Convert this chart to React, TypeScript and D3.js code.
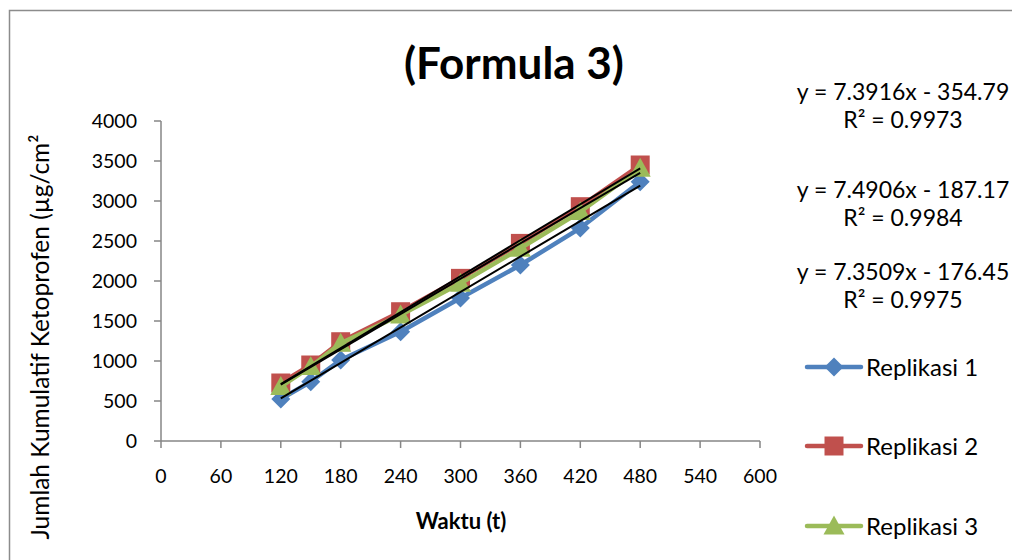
import React from "react";
import * as d3 from "d3";

const times = [120, 150, 180, 240, 300, 360, 420, 480];
const replikasi1 = [525, 740, 1012, 1366, 1787, 2200, 2662, 3241];
const replikasi2 = [725, 950, 1241, 1616, 2033, 2470, 2929, 3450];
const replikasi3 = [680, 929, 1221, 1575, 1971, 2409, 2866, 3408];

const seriesNames = ["Replikasi 1", "Replikasi 2", "Replikasi 3"];
const seriesColors = ["#4f81bd", "#c0504d", "#9bbb59"];
const seriesMarkers = ["diamond", "square", "triangle"];

// linear trendline coefficients (slope, intercept) and R²
const slopes = [7.3916, 7.4906, 7.3509];
const intercepts = [-354.79, -187.17, -176.45];
const rSquared = ["0.9973", "0.9984", "0.9975"];

const xTicks = [0, 60, 120, 180, 240, 300, 360, 420, 480, 540, 600];
const yTicks = [0, 500, 1000, 1500, 2000, 2500, 3000, 3500, 4000];

const FONT = "Lato, 'Open Sans', sans-serif";

function markerPath(kind: string, cx: number, cy: number): string {
  if (kind === "diamond") {
    const r = 9.5;
    return `M${cx},${cy - r}L${cx + r},${cy}L${cx},${cy + r}L${cx - r},${cy}Z`;
  }
  if (kind === "square") {
    const r = 9.5;
    return `M${cx - r},${cy - r}H${cx + r}V${cy + r}H${cx - r}Z`;
  }
  const r = 10.5;
  return `M${cx},${cy - r}L${cx + r},${cy + r * 0.8}L${cx - r},${cy + r * 0.8}Z`;
}

export default function App() {
  const width = 1012;
  const height = 560;
  const x = d3.scaleLinear().domain([0, 600]).range([161, 760]);
  const y = d3.scaleLinear().domain([0, 4000]).range([441, 121]);

  const allSeries = [replikasi1, replikasi2, replikasi3];
  const line = d3
    .line<number>()
    .x((_, i) => x(times[i]))
    .y((d) => y(d));

  const eqBaselines = [100, 198, 280];
  const legendY = [367, 446, 526];
  const axisColor = "#868686";

  return (
    <svg
      width={width}
      height={height}
      style={{ position: "absolute", left: 0, top: 0, background: "#ffffff" }}
    >
      <rect x={0} y={0} width={width} height={height} fill="#ffffff" />
      <rect
        x={9.5}
        y={10.5}
        width={width + 10}
        height={height + 10}
        fill="none"
        stroke="#8c8c8c"
        strokeWidth={1.5}
      />

      <text
        x={514}
        y={79}
        textAnchor="middle"
        fontFamily={FONT}
        fontWeight="bold"
        fontSize={44}
        fill="#000"
      >
        (Formula 3)
      </text>

      {/* axes */}
      <line x1={x(0)} x2={x(600)} y1={y(0)} y2={y(0)} stroke={axisColor} strokeWidth={1.5} />
      <line x1={x(0)} x2={x(0)} y1={y(0)} y2={y(4000)} stroke={axisColor} strokeWidth={1.5} />
      {yTicks.map((t) => (
        <g key={"y" + t}>
          <line x1={x(0) - 7} x2={x(0)} y1={y(t)} y2={y(t)} stroke={axisColor} strokeWidth={1.5} />
          <text
            x={137}
            y={y(t)}
            dy="0.36em"
            textAnchor="end"
            fontFamily={FONT}
            fontSize={19.5}
            fill="#000"
          >
            {t}
          </text>
        </g>
      ))}
      {xTicks.map((t) => (
        <g key={"x" + t}>
          <line x1={x(t)} x2={x(t)} y1={y(0)} y2={y(0) + 7} stroke={axisColor} strokeWidth={1.5} />
          <text
            x={x(t)}
            y={483}
            textAnchor="middle"
            fontFamily={FONT}
            fontSize={19.5}
            fill="#000"
          >
            {t}
          </text>
        </g>
      ))}

      <text
        x={461}
        y={529}
        textAnchor="middle"
        fontFamily={FONT}
        fontWeight="bold"
        fontSize={22}
        fill="#000"
      >
        Waktu (t)
      </text>
      <text
        transform={`translate(49, 337) rotate(-90)`}
        textAnchor="middle"
        fontFamily={FONT}
        fontSize={24.5}
        fill="#000"
      >
        Jumlah Kumulatif Ketoprofen (µg/cm²
      </text>

      {/* data series */}
      {allSeries.map((vals, s) => (
        <g key={"s" + s}>
          <path
            d={line(vals) || ""}
            fill="none"
            stroke={seriesColors[s]}
            strokeWidth={4.5}
            strokeLinejoin="round"
            strokeLinecap="round"
          />
          {vals.map((v, i) => (
            <path
              key={i}
              d={markerPath(seriesMarkers[s], x(times[i]), y(v))}
              fill={seriesColors[s]}
            />
          ))}
        </g>
      ))}

      {/* linear trendlines */}
      {slopes.map((m, s) => (
        <line
          key={"t" + s}
          x1={x(times[0])}
          x2={x(times[times.length - 1])}
          y1={y(m * times[0] + intercepts[s])}
          y2={y(m * times[times.length - 1] + intercepts[s])}
          stroke="#000"
          strokeWidth={2}
        />
      ))}

      {/* trendline equations */}
      {slopes.map((m, s) => (
        <g key={"e" + s} fontFamily={FONT} fontSize={23} fill="#000">
          <text x={903} y={eqBaselines[s]} textAnchor="middle">
            {`y = ${m.toFixed(4)}x - ${Math.abs(intercepts[s]).toFixed(2)}`}
          </text>
          <text x={903} y={eqBaselines[s] + 28} textAnchor="middle">
            {`R² = ${rSquared[s]}`}
          </text>
        </g>
      ))}

      {/* legend */}
      {seriesNames.map((name, s) => (
        <g key={"l" + s}>
          <line
            x1={807}
            x2={861}
            y1={legendY[s]}
            y2={legendY[s]}
            stroke={seriesColors[s]}
            strokeWidth={4.5}
            strokeLinecap="round"
          />
          <path d={markerPath(seriesMarkers[s], 834, legendY[s])} fill={seriesColors[s]} />
          <text
            x={866}
            y={legendY[s]}
            dy="0.36em"
            fontFamily={FONT}
            fontSize={24}
            fill="#000"
          >
            {name}
          </text>
        </g>
      ))}
    </svg>
  );
}
